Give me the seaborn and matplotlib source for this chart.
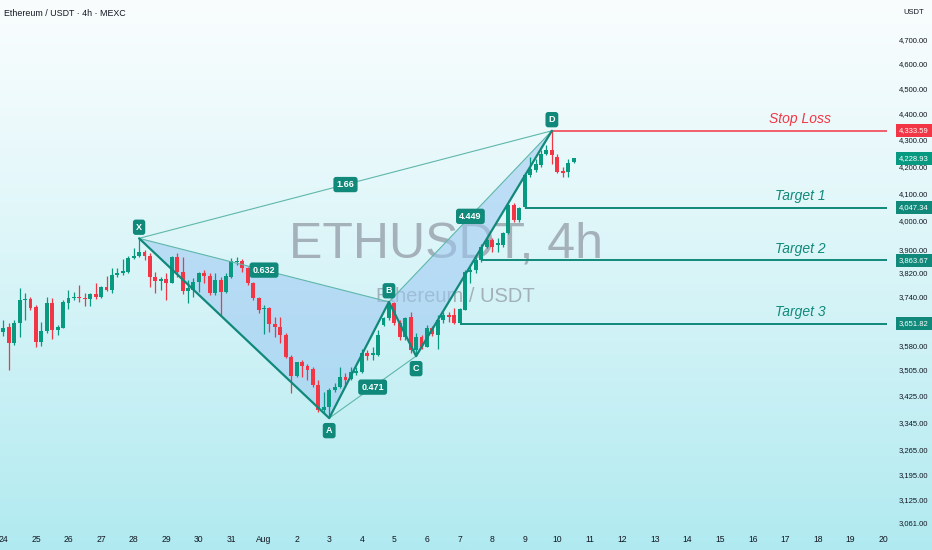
import numpy as np
import pandas as pd
import matplotlib
matplotlib.use("Agg")
import matplotlib.pyplot as plt
import matplotlib.transforms as mtransforms
from matplotlib.ticker import FixedLocator, NullLocator, FuncFormatter
import seaborn as sns

# ---- data (4h candles from Jul 24) ----
candle_open = [3626, 3642, 3588, 3653, 3729, 3731, 3707, 3594, 3629, 3720,
               3631, 3639, 3720, 3737, 3740, 3737, 3731, 3749, 3740, 3771,
               3764, 3813, 3819, 3824, 3872, 3878, 3892, 3878, 3805, 3794,
               3798, 3787, 3875, 3824, 3759, 3762, 3790, 3819, 3810, 3751,
               3796, 3756, 3807, 3858, 3862, 3838, 3785, 3735, 3699, 3702,
               3650, 3640, 3615, 3546, 3486, 3528, 3517, 3507, 3458, 3382,
               3392, 3443, 3453, 3484, 3476, 3495, 3497, 3557, 3551, 3551,
               3647, 3669, 3718, 3653, 3610, 3675, 3567, 3610, 3578, 3637,
               3615, 3664, 3680, 3680, 3655, 3696, 3824, 3830, 3864, 3910,
               3933, 3916, 3916, 3956, 4057, 4004, 4049, 4166, 4185, 4203,
               4247, 4260, 4234, 4182, 4179, 4216]
candle_high = [3664, 3653, 3664, 3768, 3751, 3740, 3712, 3658, 3740, 3735,
               3647, 3729, 3762, 3756, 3778, 3751, 3753, 3787, 3776, 3810,
               3836, 3836, 3866, 3878, 3904, 3939, 3900, 3887, 3824, 3807,
               3819, 3878, 3887, 3873, 3796, 3802, 3824, 3830, 3819, 3819,
               3807, 3819, 3870, 3875, 3866, 3841, 3790, 3740, 3712, 3707,
               3675, 3675, 3620, 3551, 3531, 3536, 3524, 3515, 3474, 3438,
               3448, 3464, 3515, 3495, 3515, 3515, 3572, 3567, 3578, 3631,
               3675, 3723, 3723, 3664, 3675, 3691, 3620, 3615, 3647, 3644,
               3680, 3691, 3691, 3702, 3702, 3830, 3841, 3875, 3921, 3945,
               3939, 3939, 3962, 4063, 4063, 4051, 4173, 4234, 4228, 4260,
               4279, 4333.59, 4247, 4197, 4228, 4230]
candle_low = [3612, 3505, 3583, 3610, 3664, 3696, 3576, 3580, 3620, 3601,
              3615, 3637, 3698, 3729, 3723, 3709, 3709, 3733, 3735, 3760,
              3753, 3807, 3813, 3819, 3866, 3875, 3864, 3773, 3753, 3764,
              3729, 3785, 3805, 3749, 3718, 3738, 3756, 3785, 3746, 3746,
              3680, 3751, 3802, 3847, 3824, 3779, 3729, 3685, 3617, 3626,
              3610, 3588, 3541, 3433, 3484, 3484, 3474, 3453, 3377, 3372,
              3358, 3438, 3448, 3453, 3474, 3490, 3495, 3536, 3536, 3548,
              3644, 3664, 3647, 3599, 3599, 3557, 3548, 3572, 3576, 3612,
              3572, 3653, 3658, 3650, 3653, 3696, 3785, 3819, 3858, 3904,
              3892, 3892, 3910, 3954, 3998, 3998, 4045, 4160, 4179, 4197,
              4241, 4209, 4173, 4160, 4160, 4211]
candle_close = [3639, 3588, 3655, 3729, 3733, 3702, 3594, 3629, 3720, 3631,
                3640, 3722, 3737, 3740, 3735, 3731, 3749, 3738, 3771, 3764,
                3813, 3819, 3827, 3872, 3878, 3892, 3878, 3805, 3793, 3798,
                3787, 3875, 3824, 3759, 3768, 3790, 3819, 3810, 3751, 3796,
                3756, 3810, 3862, 3862, 3836, 3785, 3735, 3696, 3704, 3650,
                3640, 3615, 3546, 3486, 3528, 3517, 3505, 3458, 3382, 3392,
                3443, 3453, 3484, 3474, 3497, 3500, 3557, 3549, 3557, 3615,
                3669, 3718, 3653, 3610, 3669, 3567, 3610, 3578, 3637, 3618,
                3664, 3680, 3675, 3655, 3698, 3824, 3830, 3864, 3910, 3933,
                3910, 3924, 3956, 4057, 4004, 4047, 4166, 4188, 4209, 4247,
                4260, 4241, 4179, 4176, 4212, 4228.93]

pattern_names = ['X', 'A', 'B', 'C', 'D']
pattern_idx = [25, 60, 71, 76, 101]
pattern_price = [3939, 3358, 3723, 3548, 4333.59]
label_above = [True, False, True, False, True]

ratio_pairs = [('X', 'B'), ('A', 'C'), ('B', 'D'), ('X', 'D')]
ratio_labels = ['0.632', '0.471', '4.449', '1.66']

level_names = ['Stop Loss', 'Target 1', 'Target 2', 'Target 3']
level_prices = [4333.59, 4047.34, 3863.67, 3651.82]
level_start = [101, 96, 88, 84]
last_price = 4228.93

price_ticks = [4700, 4600, 4500, 4400, 4300, 4200, 4100, 4000, 3900, 3820,
               3740, 3580, 3505, 3425, 3345, 3265, 3195, 3125, 3061]
day_labels = ['24', '25', '26', '27', '28', '29', '30', '31', 'Aug', '2', '3',
              '4', '5', '6', '7', '8', '9', '10', '11', '12', '13', '14', '15',
              '16', '17', '18', '19', '20']

# ---- style ----
sns.set_theme(style='white')
plt.rcParams['font.family'] = ['Liberation Sans', 'DejaVu Sans']

GREEN = '#089981'
RED = '#f23645'
TEAL = '#10897a'
TEAL_LIGHT = '#5fb7aa'
TXT = '#131722'

df = pd.DataFrame({'open': candle_open, 'high': candle_high,
                   'low': candle_low, 'close': candle_close})
df['idx'] = np.arange(len(df))
df['up'] = df['close'] >= df['open']
df['color'] = np.where(df['up'], GREEN, RED)
df['body_lo'] = df[['open', 'close']].min(axis=1)
df['body_h'] = (df['close'] - df['open']).abs().clip(lower=1.5)

pts = pd.DataFrame({'name': pattern_names, 'idx': pattern_idx, 'price': pattern_price})
pos = {n: (i, p) for n, i, p in zip(pattern_names, pattern_idx, pattern_price)}

fig = plt.figure(figsize=(9.32, 5.5), dpi=100)

# background gradient
bg = fig.add_axes([0, 0, 1, 1], zorder=-10)
top = np.array([249, 253, 254]) / 255
bot = np.array([176, 234, 240]) / 255
t = np.linspace(0, 1, 256)[:, None] ** 1.15
grad = top[None, :] * (1 - t) + bot[None, :] * t
bg.imshow(grad[:, None, :], aspect='auto', extent=[0, 1, 0, 1])
bg.axis('off')

ax = fig.add_axes([0, 22 / 550, 887 / 932, 528 / 550])
ax.patch.set_alpha(0)
ax.set_yscale('log')

# watermark
ax.text(0.503, 0.536, 'ETHUSDT, 4h', transform=ax.transAxes, fontsize=36,
        color=(0.47, 0.48, 0.53), alpha=0.55, ha='center', va='center', zorder=0)
ax.text(0.513, 0.439, 'Ethereum / USDT', transform=ax.transAxes, fontsize=14.5,
        color=(0.47, 0.48, 0.53), alpha=0.55, ha='center', va='center', zorder=0)

# harmonic pattern fills
for tri in [('X', 'A', 'B'), ('B', 'C', 'D')]:
    ax.fill([pos[n][0] for n in tri], [pos[n][1] for n in tri],
            color='#9cc8f2', alpha=0.55, lw=0, zorder=1)

# candles
ax.vlines(df['idx'], df['low'], df['high'], colors=df['color'], lw=0.9, zorder=2)
ax.bar(df['idx'], df['body_h'], bottom=df['body_lo'], width=0.72,
       color=df['color'], linewidth=0, zorder=2)

# thin connector lines
for a, b in ratio_pairs:
    ax.plot([pos[a][0], pos[b][0]], [pos[a][1], pos[b][1]],
            color=TEAL_LIGHT, lw=0.8, zorder=3)

# main legs
sns.lineplot(data=pts, x='idx', y='price', sort=False, estimator=None,
             color=TEAL, lw=1.6, ax=ax, zorder=4)

box = dict(boxstyle='round,pad=0.35,rounding_size=0.3', fc=TEAL, ec='none')
for (a, b), lab in zip(ratio_pairs, ratio_labels):
    mx = (pos[a][0] + pos[b][0]) / 2
    my = np.sqrt(pos[a][1] * pos[b][1])
    ax.text(mx, my, lab, ha='center', va='center', fontsize=6.5,
            color='white', fontweight='bold', bbox=box, zorder=6)

for n, i, p, up in zip(pattern_names, pattern_idx, pattern_price, label_above):
    ax.annotate(n, (i, p), xytext=(0, 8 if up else -9), textcoords='offset points',
                ha='center', va='center', fontsize=6.5, color='white',
                fontweight='bold', bbox=box, zorder=6)

# stop loss / targets
xmax = 162.7
for name, price, start in zip(level_names, level_prices, level_start):
    col = RED if name == 'Stop Loss' else TEAL
    ax.hlines(price, start, xmax, color=col, lw=1.4 if col == TEAL else 1.1, zorder=3)
    ax.annotate(name, (146.7, price), xytext=(0, 8.3), textcoords='offset points',
                ha='center', va='center', fontsize=10, style='italic', color=col,
                zorder=5)

# price axis boxes
trans = mtransforms.blended_transform_factory(ax.transAxes, ax.transData)
for price, col in zip([level_prices[0], last_price] + level_prices[1:],
                      [RED, GREEN, TEAL, TEAL, TEAL]):
    ax.text(1.0135, price, f'{price:,.2f}', transform=trans, ha='left', va='center',
            fontsize=5.5, color='white', clip_on=False, zorder=7,
            bbox=dict(boxstyle='square,pad=0.4', fc=col, ec='none'))

ax.set_xlim(-0.61, xmax)
ax.set_ylim(3046, 4867)
ax.yaxis.tick_right()
ax.yaxis.set_major_locator(FixedLocator(price_ticks))
ax.yaxis.set_minor_locator(NullLocator())
ax.yaxis.set_major_formatter(FuncFormatter(lambda v, _: f'{v:,.2f}'))
ax.set_xticks([6 * d for d in range(len(day_labels))])
ax.set_xticklabels(day_labels)
ax.tick_params(axis='y', length=0, pad=8.6, labelsize=5.5, labelcolor=TXT)
ax.tick_params(axis='x', length=0, pad=5, labelsize=6.2, labelcolor=TXT)
ax.set_xlabel('')
ax.set_ylabel('')
ax.grid(False)
sns.despine(ax=ax, left=True, bottom=True)
ax.spines['right'].set_visible(False)

fig.text(4 / 932, 1 - 13 / 550, 'Ethereum / USDT · 4h · MEXC', fontsize=6.4,
         color=TXT, va='center', ha='left')
fig.text(903 / 932, 1 - 13 / 550, 'USDT', fontsize=5.5, color=TXT, va='center', ha='left')

fig.savefig('out.png', dpi=100)
